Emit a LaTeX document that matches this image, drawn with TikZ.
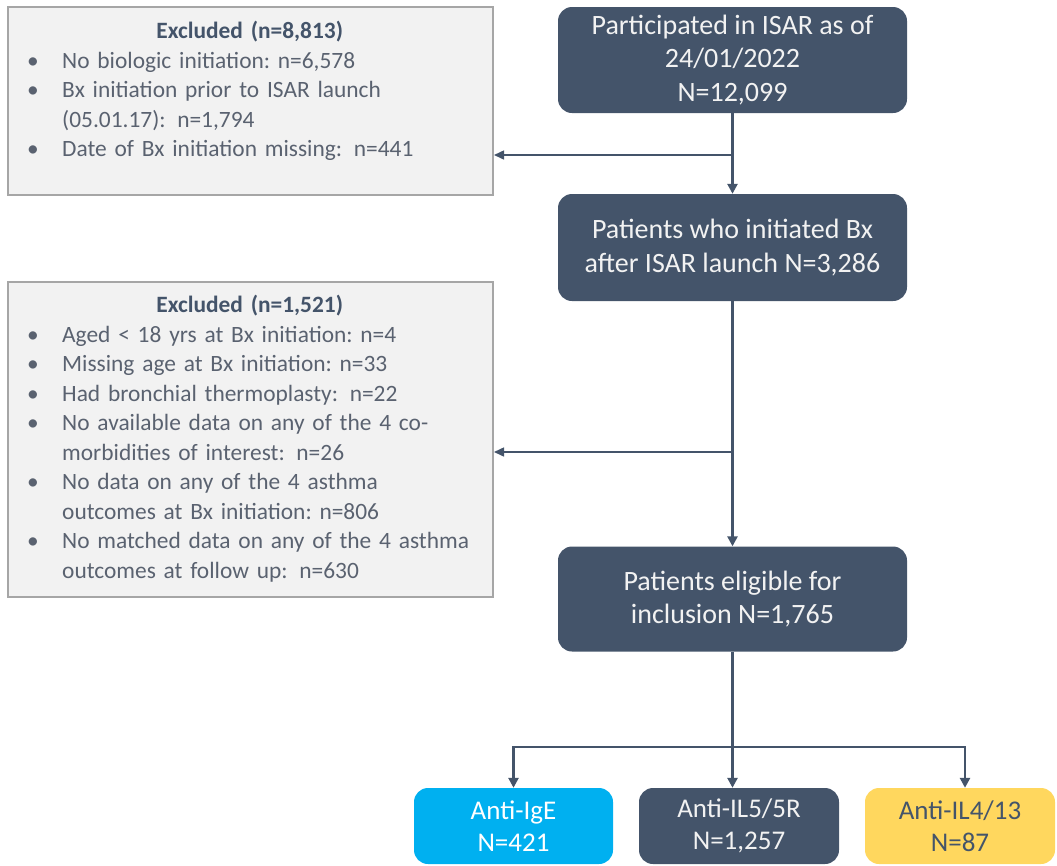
\documentclass[tikz,border=0pt]{standalone}
\usepackage{fontspec}
\setmainfont{Carlito}
\usetikzlibrary{arrows.meta}

\definecolor{slate}{HTML}{44546A}
\definecolor{greyfill}{HTML}{F2F2F2}
\definecolor{greyline}{HTML}{A6A6A6}
\definecolor{greytext}{HTML}{5A6270}
\definecolor{cyanbox}{HTML}{00B0F0}
\definecolor{yellowbox}{HTML}{FFD75E}

% bullet line of an exclusion box
\newcommand{\bitem}[1]{\par\noindent\hangindent=41pt\hangafter=1\makebox[41pt][l]{\hspace{6pt}\textbullet}#1}
% bold title of an exclusion box
\newcommand{\excltitle}[1]{\centerline{\bfseries\color{slate}#1}}

\begin{document}
\begin{tikzpicture}[
        x=1pt, y=-1pt, % pixel-like units, y downwards
        stepbox/.style={rectangle, rounded corners=14pt, fill=slate, text=greyfill,
            align=center, inner sep=0pt, minimum width=349pt,
            font=\fontsize{28}{33.5}\selectfont}, % dark flow boxes
        armbox/.style={stepbox, minimum width=199pt, minimum height=76pt,
            font=\fontsize{27}{32}\selectfont}, % treatment boxes
        exclbox/.style={rectangle, fill=greyfill, draw=greyline, line width=2pt,
            minimum width=485pt}, % grey exclusion frames
        excltext/.style={anchor=north west, inner sep=0pt, text width=457pt,
            text=greytext, font=\fontsize{23.4}{29.5}\selectfont}, % text inside them
        flow/.style={draw=slate, line width=2.5pt, -{Triangle[length=10pt,width=10pt]}}, % main arrows
        side/.style={draw=slate, line width=1.5pt, -{Triangle[length=10pt,width=9pt]}} % arrows to exclusions
    ]
        \useasboundingbox (0,0) rectangle (1057,865);

        % --- Main flow ---
        \node[stepbox, minimum height=106pt] (part) at (732.5,60)
            {Participated in ISAR as of\\24/01/2022\\N=12,099};
        \node[stepbox, minimum height=107pt] (init) at (732.5,247.5)
            {Patients who initiated Bx\\after ISAR launch N=3,286};
        \node[stepbox, minimum height=105pt] (elig) at (732.5,599)
            {Patients eligible for\\inclusion N=1,765};

        % --- Exclusion boxes ---
        \node[exclbox, minimum height=188pt] (excl1) at (250.5,101) {};
        \node[excltext] (excl1txt) at ([xshift=14pt, yshift=-15pt]excl1.north west) {%
            \excltitle{Excluded (n=8,813)}%
            \bitem{No biologic initiation:\ n=6,578}%
            \bitem{Bx initiation\ prior to ISAR launch\newline(05.01.17): n=1,794}%
            \bitem{Date of Bx initiation\ missing: n=441}\par};

        \node[exclbox, minimum height=315pt] (excl2) at (250.5,439.5) {};
        \node[excltext] (excl2txt) at ([xshift=14pt, yshift=-14pt]excl2.north west) {%
            \excltitle{Excluded (n=1,521)}%
            \bitem{Aged < 18 yrs at Bx initiation:\ n=4}%
            \bitem{Missing age at Bx initiation:\ n=33}%
            \bitem{Had bronchial thermoplasty: n=22}%
            \bitem{No available data on any of the 4 co-\newline morbidities of interest: n=26}%
            \bitem{No data on any of the 4 asthma\newline outcomes at Bx initiation:\ n=806}%
            \bitem{No matched data on any of the 4 asthma\newline outcomes at follow up: n=630}\par};

        % --- Treatment groups ---
        \node[armbox, fill=cyanbox, text=white] (antiige) at (513.5,826) {Anti-IgE\\N=421};
        \node[armbox, minimum width=200pt] (antiil5) at (739,826) {Anti-IL5/5R\\N=1,257};
        \node[armbox, minimum width=190pt, fill=yellowbox, text=slate] (antiil4) at (960,826) {Anti-IL4/13\\N=87};

        % --- Connectors ---
        \coordinate (cut1) at (732.5,155);
        \coordinate (cut2) at (732.5,452);
        \coordinate (split) at (732.5,747);
        \draw[flow] (part) -- (init);
        \draw[side] (cut1) -- (excl1.east |- cut1);
        \draw[flow] (init) -- (elig);
        \draw[side] (cut2) -- (excl2.east |- cut2);
        \draw[draw=slate, line width=2.5pt] (elig) -- (split);
        \draw[flow] (split) -| (antiige.north);
        \draw[flow] (split) -- (split |- antiil5.north);
        \draw[flow] (split) -| ([xshift=5pt]antiil4.north);
    \end{tikzpicture}
\end{document}
